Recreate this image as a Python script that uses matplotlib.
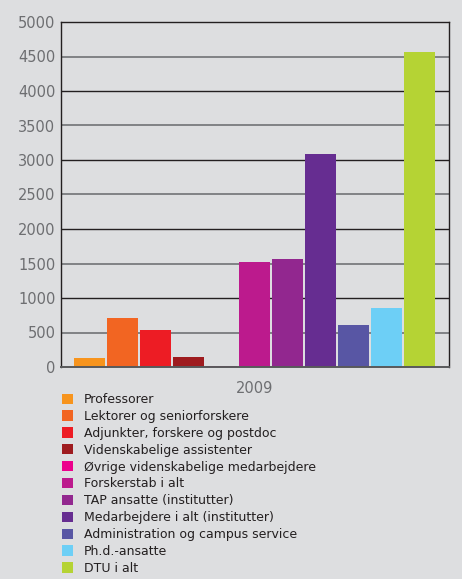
import matplotlib.pyplot as plt
from matplotlib.patches import Patch

categories = [
    "Professorer",
    "Lektorer og seniorforskere",
    "Adjunkter, forskere og postdoc",
    "Videnskabelige assistenter",
    "Øvrige videnskabelige medarbejdere",
    "Forskerstab i alt",
    "TAP ansatte (institutter)",
    "Medarbejdere i alt (institutter)",
    "Administration og campus service",
    "Ph.d.-ansatte",
    "DTU i alt",
]
values = [135, 715, 541, 150, 10, 1525, 1568, 3091, 614, 861, 4562]
colors = ["#f7941d", "#f26522", "#ed1c24", "#9e1b1f", "#ec008c", "#bc1a8d",
          "#92278f", "#662d91", "#5856a4", "#6dcff6", "#b5d334"]
year = "2009"
yticks = list(range(0, 5001, 500))

bg = "#dddee0"
txt = "#6d6e71"

fig = plt.figure(figsize=(4.62, 5.79), dpi=100, facecolor=bg)
ax = fig.add_axes([61 / 462, 1 - 367 / 579, 388 / 462, 345 / 579], facecolor=bg)

# grid: dark on the thousands, lighter grey on the half thousands
for t in yticks[1:-1]:
    if t % 1000 == 0:
        ax.axhline(t, color="#231f20", lw=1.0, zorder=1)
    else:
        ax.axhline(t, color="#808285", lw=1.4, zorder=1)

xs = list(range(len(values)))
for x, v, c in zip(xs, values, colors):
    ax.bar(x, v, width=0.94, color=c, zorder=2)

ax.set_xlim(-0.864, 10.9)
ax.set_ylim(0, 5000)
ax.set_yticks(yticks)
ax.set_xticks([5])
ax.set_xticklabels([year])
ax.tick_params(axis="both", length=0, labelsize=10.5, colors=txt)
ax.tick_params(axis="y", pad=4)
ax.tick_params(axis="x", pad=10)

for s in ["top", "left", "right"]:
    ax.spines[s].set_color("#231f20")
    ax.spines[s].set_linewidth(1.0)
ax.spines["bottom"].set_color("#58595b")
ax.spines["bottom"].set_linewidth(1.4)

handles = [Patch(facecolor=c, edgecolor="none") for c in colors]
fig.legend(handles, categories, loc="upper left",
           bbox_to_anchor=(62 / 462, 1 - 393 / 579), frameon=False,
           fontsize=9, labelcolor="#231f20", handlelength=0.88,
           handleheight=0.88, handletextpad=0.88, labelspacing=0.31,
           borderaxespad=0, borderpad=0)

fig.savefig("out.png", dpi=100, facecolor=bg)
